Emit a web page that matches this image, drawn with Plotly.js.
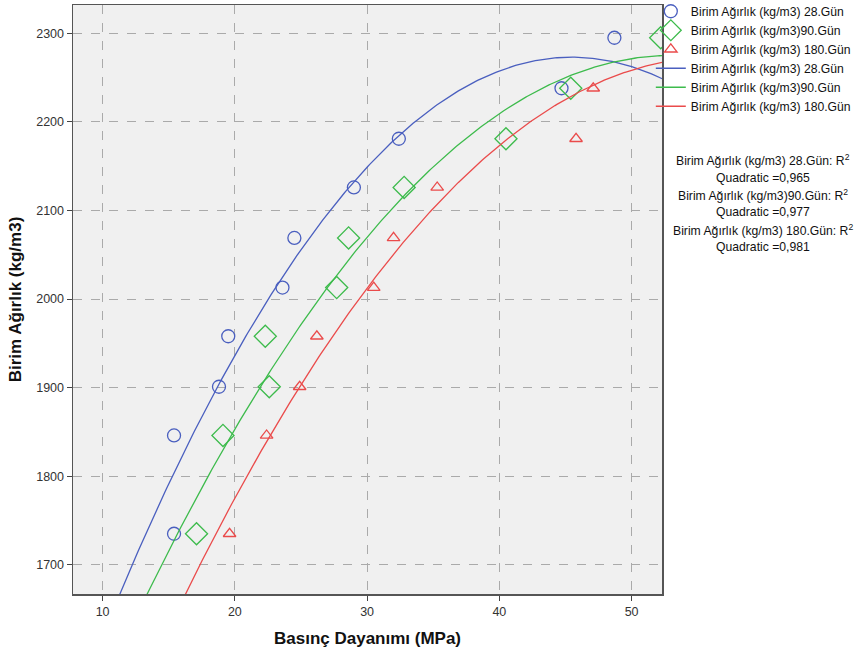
<!DOCTYPE html>
<html><head><meta charset="utf-8">
<script src="https://cdn.plot.ly/plotly-3.0.1.min.js"></script>
<style>body{margin:0;background:#fff}#c{width:855px;height:657px}</style>
</head><body><div id="c"></div>
<script>
// Birim Ağırlık (kg/m3) values
const y28 = [1735, 1846, 1901, 1958, 2013, 2069, 2126, 2181, 2238, 2295];
const x28 = [15.4, 15.4, 18.8, 19.5, 23.6, 24.5, 29.0, 32.4, 44.7, 48.7];
const y90 = [1735, 1846, 1901, 1958, 2013, 2069, 2126, 2181, 2238, 2295];
const x90 = [17.1, 19.1, 22.6, 22.3, 27.7, 28.6, 32.8, 40.5, 45.4, 52.2];
const y180 = [1735, 1846, 1901, 1958, 2013, 2069, 2126, 2181, 2238, 2295];
const x180 = [19.6, 22.4, 24.9, 26.2, 30.5, 32.0, 35.3, 45.8, 47.1, 56.5]; // last point lies beyond the axis range
const names = ["Birim Ağırlık (kg/m3) 28.Gün", "Birim Ağırlık (kg/m3)90.Gün", "Birim Ağırlık (kg/m3) 180.Gün"];
const r2 = ["0,965", "0,977", "0,981"];
const colors = ["#4a5fbf", "#3dbb4c", "#ea4b4b"];

// least-squares quadratic fit y = a + b x + c x^2
function quadFit(xs, ys) {
  let S = [0,0,0,0,0], T = [0,0,0];
  for (let i = 0; i < xs.length; i++) {
    let p = 1;
    for (let k = 0; k < 5; k++) { S[k] += p; if (k < 3) T[k] += p * ys[i]; p *= xs[i]; }
  }
  const M = [[S[0],S[1],S[2],T[0]],[S[1],S[2],S[3],T[1]],[S[2],S[3],S[4],T[2]]];
  for (let i = 0; i < 3; i++) {
    for (let j = i+1; j < 3; j++) {
      const f = M[j][i] / M[i][i];
      for (let k = i; k < 4; k++) M[j][k] -= f * M[i][k];
    }
  }
  const c = [0,0,0];
  for (let i = 2; i >= 0; i--) {
    let s = M[i][3];
    for (let k = i+1; k < 3; k++) s -= M[i][k] * c[k];
    c[i] = s / M[i][i];
  }
  return c;
}
function curve(xs, ys) {
  const c = quadFit(xs, ys);
  const cx = [], cy = [];
  for (let i = 0; i <= 300; i++) {
    const x = 7.7 + i * (52.4 - 7.7) / 300;
    cx.push(x); cy.push(c[0] + c[1]*x + c[2]*x*x);
  }
  return [cx, cy];
}
const xsets = [x28, x90, x180], ysets = [y28, y90, y180];
const symbols = ["circle-open", "diamond-open", "triangle-up-open"];
const sizes = [13, 17, 11];
const traces = [];
for (let i = 0; i < 3; i++) {
  traces.push({x: xsets[i], y: ysets[i], mode: "markers", type: "scatter", name: names[i],
    marker: {symbol: symbols[i], size: sizes[i], color: colors[i], line: {width: 1.3, color: colors[i]}}});
}
for (let i = 0; i < 3; i++) {
  const [cx, cy] = curve(xsets[i], ysets[i]);
  traces.push({x: cx, y: cy, mode: "lines", type: "scatter", name: names[i],
    line: {color: colors[i], width: 1.3}});
}
// R² annotation lines
const annLines = [];
names.forEach((n, i) => { annLines.push(n + ": R<sup>2</sup>"); annLines.push("Quadratic =" + r2[i]); });
const annY = [160, 177.5, 195, 212, 229.5, 247];
const annotations = annLines.map((t, i) => ({xref: "paper", yref: "paper", x: (763 - 73) / 589,
  y: (594 - annY[i]) / 589, xanchor: "center", yanchor: "middle", text: t, showarrow: false,
  font: {size: 12.2, color: "#111"}}));
const layout = {
  width: 855, height: 657,
  margin: {l: 73, r: 193, t: 5, b: 63, autoexpand: false},
  paper_bgcolor: "#ffffff", plot_bgcolor: "#f0f0f0",
  font: {family: "Liberation Sans, Arial, sans-serif", color: "#222", size: 12},
  showlegend: true,
  legend: {x: 0.981, y: 1.014, xanchor: "left", yanchor: "top", bgcolor: "rgba(0,0,0,0)",
    font: {size: 12.2, color: "#111"}, itemwidth: 30, tracegroupgap: 0},
  xaxis: {range: [7.76, 52.3], tickvals: [10,20,30,40,50], ticks: "outside", ticklen: 5,
    tickcolor: "#444", showgrid: true, gridcolor: "#aaaaaa", griddash: "dash", gridwidth: 1,
    showline: true, linecolor: "#555", linewidth: 1.5, mirror: true, zeroline: false,
    tickfont: {size: 12.5, color: "#333"},
    title: {text: "<b>Basınç Dayanımı (MPa)</b>", font: {size: 17, color: "#111"}, standoff: 14}},
  yaxis: {range: [1667, 2332], tickvals: [1700,1800,1900,2000,2100,2200,2300], ticks: "outside", ticklen: 5,
    tickcolor: "#444", showgrid: true, gridcolor: "#aaaaaa", griddash: "dash", gridwidth: 1,
    showline: true, linecolor: "#555", linewidth: 1.5, mirror: true, zeroline: false,
    tickfont: {size: 12.5, color: "#333"},
    title: {text: "<b>Birim Ağırlık (kg/m3)</b>", font: {size: 17, color: "#111"}, standoff: 10}},
  annotations: annotations
};
Plotly.newPlot("c", traces, layout, {displayModeBar: false, staticPlot: true});
</script></body></html>
